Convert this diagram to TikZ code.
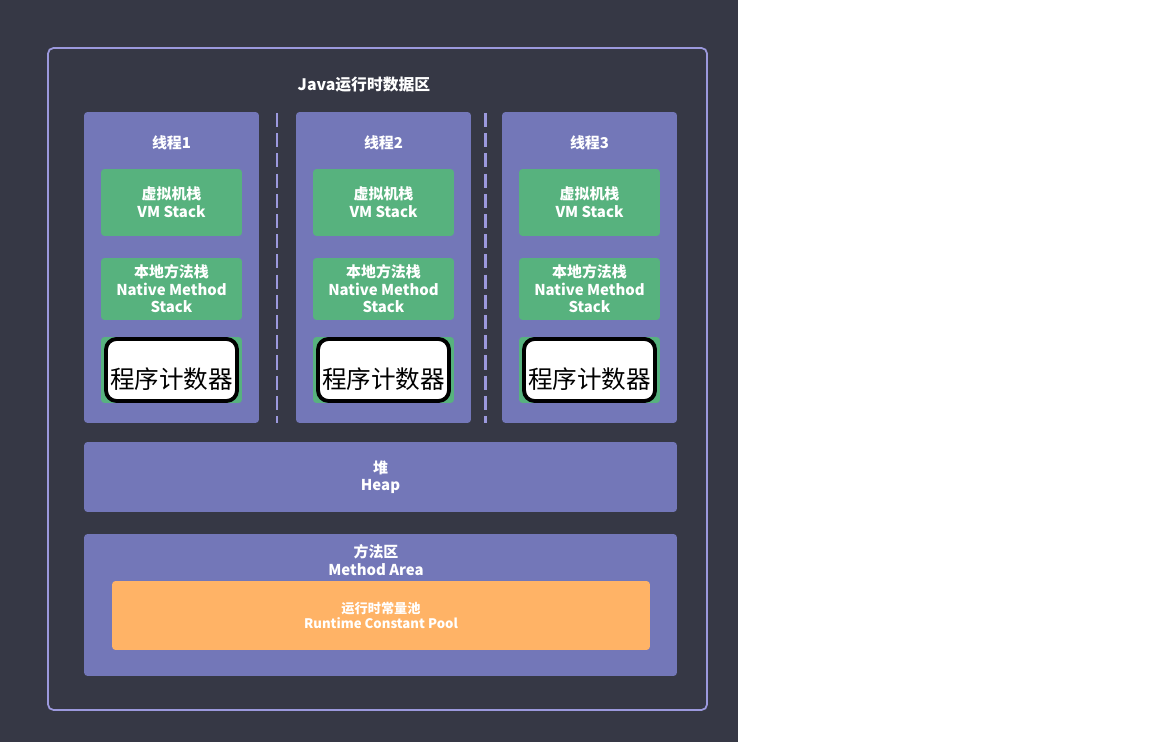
\documentclass[tikz,border=0pt]{standalone}
\usepackage{fontspec}
\setmainfont{Noto Sans CJK SC}
\usepackage{tikz}
\usetikzlibrary{positioning}
\definecolor{darkbg}{RGB}{54,56,69}
\definecolor{frameline}{RGB}{156,153,221}
\definecolor{threadbg}{RGB}{115,119,184}
\definecolor{stackbg}{RGB}{87,178,126}
\definecolor{poolbg}{RGB}{255,179,102}
\tikzset{
  area/.style={
    fill=threadbg, rounded corners=2pt, inner sep=0pt,
    font=\fontsize{8.5}{10}\selectfont\bfseries, text=white, align=center
  },
  stackbox/.style={
    fill=stackbg, rounded corners=2pt, minimum width=2.82cm, inner sep=0pt,
    font=\fontsize{8.5}{10}\selectfont\bfseries, text=white, align=center
  },
  pcbox/.style={
    draw=black, line width=2.2pt, fill=white, rounded corners=6pt,
    minimum width=2.62cm, minimum height=1.24cm, inner sep=0pt
  },
  caption/.style={font=\fontsize{8.5}{10}\selectfont\bfseries, text=white, align=center},
  separator/.style={draw=frameline, line width=1.7pt, dash pattern=on 8pt off 3.5pt},
}

\begin{document}
\begin{tikzpicture}[x=0.02cm, y=-0.02cm]
  % canvas
  \fill[white] (0,0) rectangle (1152,742);
  \fill[darkbg] (0,0) rectangle (738,742);
  \useasboundingbox (0,0) rectangle (1152,742);

  % run-time data area
  \node[draw=frameline, line width=1pt, rounded corners=3pt, minimum width=13.18cm, minimum height=13.24cm] (JVM) at (377.5,379) {};
  \node[caption, font=\fontsize{9}{10}\selectfont\bfseries] (JVMtitle) at (364,85) {Java运行时数据区};

  % threads
  \foreach \i/\x in {1/171.5, 2/383.5, 3/589.5} {
    \node[area, minimum width=3.5cm, minimum height=6.22cm] (T\i) at (\x,267.5) {};
    \node[caption] (T\i title) at (\x,143) {线程\i};
    \node[stackbox, minimum height=1.34cm] (VM\i) at (\x,202.5) {虚拟机栈\\VM Stack};
    \node[stackbox, minimum height=1.24cm] (NM\i) at (\x,289) {本地方法栈\\Native Method\\Stack};
    \node[stackbox, minimum height=1.32cm] (PCR\i) at (\x,370) {};
    \node[pcbox] (PC\i) at (\x,370) {};
    \node[font=\fontsize{14}{16}\selectfont, text=black] (PC\i text) at (\x,379) {程序计数器};
  }

  % thread separators
  \coordinate (S1top) at (277,113);
  \coordinate (S1bot) at (277,423);
  \coordinate (S2top) at (485,113);
  \coordinate (S2bot) at (485,423);
  \draw[separator] (S1top) -- (S1bot);
  \draw[separator] (S2top) -- (S2bot);

  % shared areas
  \node[area, minimum width=11.86cm, minimum height=1.4cm] (heap) at (380.5,477) {堆\\Heap};
  \node[area, minimum width=11.86cm, minimum height=2.84cm] (method) at (380.5,605) {};
  \node[caption] (methodtitle) at (376,560) {方法区\\Method Area};
  \node[fill=poolbg, rounded corners=2pt, minimum width=10.76cm, minimum height=1.38cm, text=white,
        font=\fontsize{7.5}{9}\selectfont\bfseries, align=center] (pool) at (381,615.5) {运行时常量池\\Runtime Constant Pool};
\end{tikzpicture}
\end{document}
